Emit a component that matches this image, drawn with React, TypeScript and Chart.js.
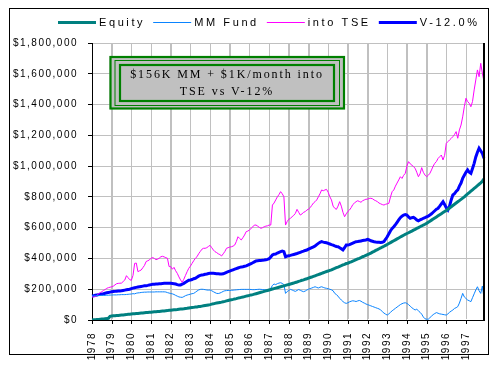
import React, { useEffect, useRef } from 'react';
import { Chart, registerables } from 'chart.js';

Chart.register(...registerables);

// Tick labels (years); the chart holds monthly values, Jan 1978 – Dec 1997, in $ thousands
const yearLabels = ['1978','1979','1980','1981','1982','1983','1984','1985','1986','1987','1988','1989','1990','1991','1992','1993','1994','1995','1996','1997'];

const equity = [
  0,1,2,3,4,5,6,7,8,9,11,24,
  26,27,28,29,30,31,32,33,34,35,37,38,
  39,40,41,42,43,44,45,46,47,48,49,50,
  51,52,53,54,55,56,57,58,59,60,61,63,
  64,65,66,67,68,70,71,72,73,75,76,78,
  80,81,82,84,85,87,88,90,92,94,96,98,
  100,103,105,108,110,112,114,116,119,121,124,127,
  130,132,134,137,139,142,144,147,149,152,155,157,
  160,163,165,168,171,174,177,180,183,186,189,192,
  195,198,201,204,207,210,213,216,219,222,225,228,
  231,234,237,240,244,247,251,254,258,261,265,268,
  272,276,279,283,287,291,295,299,303,307,311,315,
  318,322,326,331,335,340,344,349,353,358,362,367,
  369,374,378,383,387,392,397,401,406,411,415,420,
  425,430,435,441,446,452,457,463,468,474,479,485,
  491,497,503,509,515,521,527,533,539,545,551,557,
  562,567,573,578,584,589,595,600,606,611,617,622,
  628,635,642,649,656,663,670,677,684,691,698,705,
  712,720,728,736,744,752,760,768,776,784,792,800,
  810,819,828,837,846,855,864,873,882,891,902,918,
];

const mmFund = [
  157,157,158,158,159,159,160,160,160,161,161,162,
  162,163,163,163,164,164,165,165,165,166,167,168,
  169,171,170,174,176,177,179,180,181,181,182,182,
  182,182,182,183,183,183,183,183,183,182,178,175,
  172,170,166,160,155,150,148,147,152,158,162,165,
  168,171,173,180,188,195,199,200,199,197,195,194,
  195,190,184,178,173,172,175,180,186,190,191,192,
  192,193,194,195,196,197,198,199,199,199,199,199,
  199,198,197,197,198,199,200,199,198,197,196,195,
  196,205,225,234,230,236,240,242,238,230,173,185,
  192,199,195,190,186,192,198,193,188,184,188,195,
  200,204,208,212,216,212,208,213,216,212,208,206,
  203,200,196,190,173,165,155,141,130,120,112,108,
  112,118,122,125,123,120,124,127,122,115,110,104,
  100,96,92,88,84,80,76,72,65,55,45,38,
  32,40,50,60,68,76,84,92,100,106,110,112,
  108,100,90,80,72,65,70,60,50,38,20,8,
  5,5,15,25,35,42,48,44,40,38,36,34,
  32,40,50,58,65,75,80,87,110,140,173,150,
  140,130,125,119,145,170,195,216,190,173,221,141,
];

const intoTSE = [
  150,151,152,160,170,178,184,192,198,206,210,213,
  216,220,228,236,238,239,240,250,260,288,275,262,
  258,290,368,370,314,320,325,340,355,380,385,390,
  401,406,400,392,395,402,411,414,410,405,401,347,
  347,330,342,320,303,280,260,245,265,290,314,336,
  350,368,385,401,411,430,445,460,466,466,470,478,
  485,470,455,444,438,430,425,416,430,445,466,470,
  474,476,480,487,510,541,530,520,535,552,574,578,
  585,595,605,617,617,610,602,596,600,606,610,612,
  617,617,747,760,780,800,815,834,820,801,617,640,
  655,661,671,680,693,719,700,682,689,700,704,715,
  720,730,745,760,769,780,800,820,845,840,845,849,
  830,801,780,740,726,719,740,769,740,700,671,690,
  705,715,730,750,760,769,775,770,765,775,780,785,
  785,790,791,788,780,775,769,760,755,750,747,752,
  755,758,800,834,845,870,890,910,931,920,940,953,
  1000,1029,1015,1007,996,986,960,931,950,990,960,942,
  931,940,953,975,1000,1018,1030,1050,1061,1072,1040,1070,
  1148,1159,1170,1180,1191,1205,1224,1181,1235,1267,1320,1386,
  1441,1420,1408,1386,1420,1495,1560,1625,1581,1668,1603,1549,
];

const v12 = [
  156,158,161,163,165,167,169,171,174,177,179,181,
  183,185,186,187,188,189,190,192,194,196,198,200,
  204,207,210,212,214,216,218,220,222,223,225,228,
  230,232,233,234,234,235,236,237,238,238,238,238,
  238,237,236,234,230,227,228,233,238,245,252,258,
  260,263,268,271,278,285,290,292,294,297,299,302,
  303,303,303,302,301,300,299,299,300,305,310,314,
  318,322,326,330,334,338,342,344,346,349,352,357,
  362,367,372,378,384,385,386,387,389,390,392,394,
  398,410,422,428,429,435,440,444,448,444,411,415,
  418,420,423,426,429,432,436,440,444,447,452,455,
  460,465,470,475,481,490,498,505,509,506,504,502,
  498,494,490,487,482,478,476,470,463,455,470,487,
  487,490,495,500,505,509,510,512,514,516,518,520,
  524,520,515,512,509,507,506,505,504,505,510,525,
  541,560,580,595,606,620,635,650,665,675,682,685,
  682,670,661,665,667,660,650,645,650,655,661,665,
  670,675,682,690,700,710,720,726,740,755,769,750,
  730,715,740,780,812,820,835,845,870,890,921,940,
  960,975,960,953,985,1018,1060,1090,1116,1100,1083,1051,
];

const seriesNames = ['Equity', 'MM Fund', 'into TSE', 'V-12.0%'];
const titleLines = ['$156K MM + $1K/month into', 'TSE vs V-12%'];

const SANS = '"Liberation Sans", Arial, sans-serif';
const SERIF = '"Liberation Serif", "Times New Roman", serif';

const monthLabels: string[] = [];
yearLabels.forEach((y) => {
  for (let m = 1; m <= 12; m++) monthLabels.push(y + '-' + String(m).padStart(2, '0'));
});

function yearPixels(chart: any): number[] {
  const a = chart.chartArea;
  const n = monthLabels.length - 1;
  const out: number[] = [];
  for (let k = 0; k < yearLabels.length; k++) {
    out.push(Math.round(a.left + ((a.right - a.left) * (k * 12)) / n));
  }
  return out;
}

const decorPlugin = {
  id: 'decor',
  beforeDraw(chart: any) {
    (chart.ctx as any).letterSpacing = '1.5px';
  },
  beforeDatasetsDraw(chart: any) {
    const ctx = chart.ctx;
    const a = chart.chartArea;
    const px = yearPixels(chart);
    ctx.save();
    ctx.fillStyle = '#C0C0C0';
    for (let k = 1; k < px.length; k++) {
      ctx.fillRect(px[k], Math.round(a.top), 1, Math.round(a.bottom - a.top) - 1);
    }
    ctx.restore();
  },
  afterDraw(chart: any) {
    const ctx = chart.ctx;
    const a = chart.chartArea;
    const px = yearPixels(chart);
    ctx.save();
    (ctx as any).letterSpacing = '0px';
    ctx.fillStyle = '#000';
    for (let k = 0; k < px.length; k++) ctx.fillRect(px[k], Math.round(a.bottom), 1, 4);
    ctx.fillRect(Math.round(a.right) - 1, a.top, 2, a.bottom - a.top);
    ctx.strokeStyle = '#000000';
    ctx.lineWidth = 1;
    ctx.strokeRect(9.5, 8.5, 479, 346);

    // legend
    ctx.font = '11px ' + SANS;
    (ctx as any).letterSpacing = '2.6px';
    ctx.textBaseline = 'middle';
    ctx.textAlign = 'left';
    let x = 58;
    const ly = 22.5;
    chart.data.datasets.forEach((ds: any) => {
      ctx.strokeStyle = ds.borderColor;
      ctx.lineWidth = ds.borderWidth;
      ctx.beginPath();
      ctx.moveTo(x, ly);
      ctx.lineTo(x + 38, ly);
      ctx.stroke();
      x += 41;
      ctx.fillStyle = '#000';
      ctx.fillText(ds.label, x, ly + 0.5);
      x += ctx.measureText(ds.label).width + 8;
    });

    // title box
    ctx.fillStyle = '#C0C0C0';
    ctx.fillRect(109.5, 56, 235, 53);
    ctx.strokeStyle = '#008000';
    ctx.lineWidth = 2.2;
    ctx.strokeRect(110.5, 57, 233.5, 51.5);
    ctx.lineWidth = 1;
    ctx.strokeRect(115, 60.5, 224.5, 45);
    ctx.lineWidth = 2.2;
    ctx.strokeRect(120, 65, 214, 36);
    ctx.fillStyle = '#000';
    ctx.font = '12px ' + SERIF;
    (ctx as any).letterSpacing = '1.9px';
    ctx.textAlign = 'center';
    ctx.fillText(titleLines[0], 227, 74.5);
    ctx.fillText(titleLines[1], 227, 92);
    ctx.restore();
  },
};

export default function App() {
  const ref = useRef<HTMLCanvasElement | null>(null);
  useEffect(() => {
    if (!ref.current) return;
    const chart = new Chart(ref.current, {
      type: 'line',
      data: {
        labels: monthLabels,
        datasets: [
          { label: seriesNames[0], data: equity, borderColor: '#008080', borderWidth: 3, fill: false, xAxisID: 'x' },
          { label: seriesNames[1], data: mmFund, borderColor: '#0A84FF', borderWidth: 1, fill: false, xAxisID: 'x' },
          { label: seriesNames[2], data: intoTSE, borderColor: '#FF00FF', borderWidth: 1, fill: false, xAxisID: 'x' },
          { label: seriesNames[3], data: v12, borderColor: '#0000FF', borderWidth: 3, fill: false, xAxisID: 'x' },
        ],
      },
      options: {
        animation: false,
        responsive: false,
        devicePixelRatio: 1,
        elements: { point: { radius: 0 }, line: { tension: 0, borderCapStyle: 'butt' } },
        layout: { padding: { top: 43, right: 11, bottom: 0, left: 0 } },
        plugins: { legend: { display: false }, tooltip: { enabled: false }, title: { display: false } },
        scales: {
          x: {
            type: 'category',
            grid: { display: false },
            border: { color: '#000', width: 1 },
            ticks: {
              autoSkip: false,
              minRotation: 90,
              maxRotation: 90,
              padding: 4,
              color: '#000',
              font: { family: SANS, size: 10 },
              callback: (_v: any, i: number) => (i % 12 === 0 ? yearLabels[i / 12] : ''),
            },
            afterFit: (s: any) => { s.height = 45; },
          },
          xg: {
            type: 'linear',
            position: 'bottom',
            min: 0,
            max: monthLabels.length - 1,
            grid: { color: '#C0C0C0', lineWidth: 1, drawTicks: false },
            border: { display: false },
            ticks: { display: false, stepSize: 12, autoSkip: false },
            afterFit: (s: any) => { s.height = 0; },
          },
          y: {
            min: 0,
            max: 1800,
            grid: { color: '#C0C0C0', tickColor: '#000', tickLength: 4, lineWidth: 1 },
            border: { color: '#000', width: 1 },
            ticks: {
              stepSize: 200,
              padding: 10,
              color: '#000',
              font: { family: SANS, size: 10 },
              callback: (v: any) => '$' + (Number(v) * 1000).toLocaleString('en-US'),
            },
            afterFit: (s: any) => { s.width = 92; },
          },
        },
      },
      plugins: [decorPlugin],
    });
    return () => chart.destroy();
  }, []);
  return (
    <div style={{ position: 'fixed', left: 0, top: 0, width: 500, height: 365, background: '#fff' }}>
      <canvas ref={ref} width={500} height={365} style={{ display: 'block', width: 500, height: 365 }} />
    </div>
  );
}
